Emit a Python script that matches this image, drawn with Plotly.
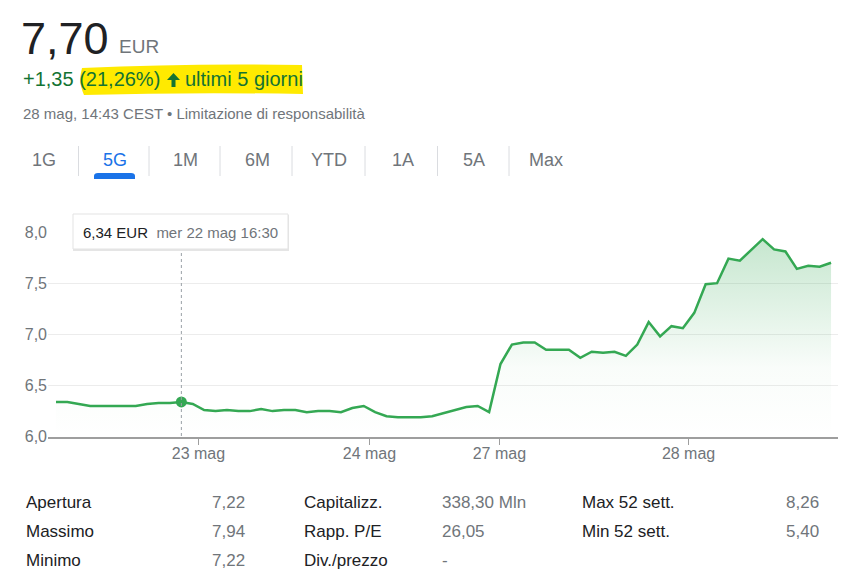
import plotly.graph_objects as go

# Dati del grafico (5 giorni, intervalli di 30 minuti)
prices = [6.34, 6.34, 6.32, 6.30, 6.30, 6.30, 6.30, 6.30, 6.32, 6.33,
          6.33, 6.34, 6.32, 6.26, 6.25, 6.26, 6.25, 6.25, 6.27, 6.25,
          6.26, 6.26, 6.24, 6.25, 6.25, 6.24, 6.28, 6.30, 6.24, 6.20,
          6.19, 6.19, 6.19, 6.20, 6.23, 6.26, 6.29, 6.30, 6.24, 6.71,
          6.90, 6.92, 6.92, 6.85, 6.85, 6.85, 6.77, 6.83, 6.82, 6.83,
          6.79, 6.90, 7.12, 6.98, 7.08, 7.06, 7.21, 7.49, 7.50, 7.74,
          7.72, 7.83, 7.93, 7.83, 7.81, 7.64, 7.67, 7.66, 7.70]
steps = list(range(len(prices)))

day_ticks = [12.5, 27.5, 38.9, 55.5]
day_labels = ["23 mag", "24 mag", "27 mag", "28 mag"]
y_ticks = [6.0, 6.5, 7.0, 7.5, 8.0]

hover_idx = 11
hover_label = "mer 22 mag 16:30"

tabs = ["1G", "5G", "1M", "6M", "YTD", "1A", "5A", "Max"]
active_tab = "5G"

stats_labels_1 = ["Apertura", "Massimo", "Minimo"]
stats_values_1 = ["7,22", "7,94", "7,22"]
stats_labels_2 = ["Capitalizz.", "Rapp. P/E", "Div./prezzo"]
stats_values_2 = ["338,30 Mln", "26,05", "-"]
stats_labels_3 = ["Max 52 sett.", "Min 52 sett."]
stats_values_3 = ["8,26", "5,40"]

W, H = 862, 577
OFF = 8  # margine del body nella pagina html
FONT = "Arial, 'Liberation Sans', sans-serif"
GREEN = "#34a853"
GRAY = "#70757a"
DARK = "#202124"


def px(x):
    return (x - OFF) / W


def py(y):
    return 1 - (y - OFF) / H


def fmt(v):
    return f"{v:.2f}".replace(".", ",")


def text(x, y, s, size, color, anchor="left"):
    return dict(xref="paper", yref="paper", x=px(x), y=py(y), xanchor=anchor,
                yanchor="middle", showarrow=False, text=s,
                font=dict(family=FONT, size=size, color=color))


fig = go.Figure()
fig.add_trace(go.Scatter(
    x=steps, y=prices, mode="lines",
    line=dict(color=GREEN, width=2.5),
    fill="tozeroy",
    fillgradient=dict(type="vertical", start=6.0, stop=max(prices),
                      colorscale=[[0, "rgba(52,168,83,0)"],
                                  [0.35, "rgba(52,168,83,0.03)"],
                                  [1, "rgba(52,168,83,0.28)"]]),
    hoverinfo="skip",
))
fig.add_trace(go.Scatter(
    x=[steps[hover_idx]], y=[prices[hover_idx]], mode="markers",
    marker=dict(color=GREEN, size=11), hoverinfo="skip",
))

shapes = []
annotations = []

# linea tratteggiata del tooltip
shapes.append(dict(type="line", xref="x", yref="paper",
                   x0=steps[hover_idx], x1=steps[hover_idx],
                   y0=py(436), y1=py(250),
                   line=dict(color="#9aa0a6", width=1, dash="dot")))

# box del tooltip
shapes.append(dict(type="rect", xref="paper", yref="paper", layer="above",
                   x0=px(73), x1=px(289), y0=py(251), y1=py(215),
                   fillcolor="rgba(0,0,0,0.10)", line=dict(width=0)))
shapes.append(dict(type="rect", xref="paper", yref="paper", layer="above",
                   x0=px(73), x1=px(288), y0=py(249), y1=py(214),
                   fillcolor="white", line=dict(color="#e3e3e3", width=1)))
annotations.append(text(81, 232,
                        f"{fmt(prices[hover_idx])} EUR  <span style='color:{GRAY}'>{hover_label}</span>",
                        15, DARK))

# intestazione
shapes.append(dict(type="path", xref="paper", yref="paper",
                   path=f"M {px(82)},{py(68)} Q {px(190)},{py(63)} {px(302)},{py(65)} "
                        f"L {px(303)},{py(94)} Q {px(190)},{py(92)} {px(84)},{py(95)} "
                        f"Q {px(78)},{py(82)} {px(82)},{py(68)} Z",
                   fillcolor="#ffea00", line=dict(width=0)))
# freccia verso l'alto
shapes.append(dict(type="path", xref="paper", yref="paper",
                   path=f"M {px(173.5)},{py(73)} L {px(180)},{py(80)} L {px(175.5)},{py(80)} "
                        f"L {px(175.5)},{py(87)} L {px(171.5)},{py(87)} L {px(171.5)},{py(80)} "
                        f"L {px(167)},{py(80)} Z",
                   fillcolor="#137333", line=dict(width=0)))
annotations.append(text(19, 38, "7,70", 45, DARK))
annotations.append(text(117, 46, "EUR", 19, GRAY))
annotations.append(text(21, 79, "+1,35 (21,26%)", 20, "#137333"))
annotations.append(text(183, 79, "ultimi 5 giorni", 20, "#137333"))
annotations.append(text(21, 113, "28 mag, 14:43 CEST • Limitazione di responsabilità",
                        15, GRAY))

# schede periodo
tab_x = [44, 115, 185, 257, 329, 403, 474, 546]
for i, (name, cx) in enumerate(zip(tabs, tab_x)):
    color = "#1a73e8" if name == active_tab else GRAY
    annotations.append(text(cx, 160, name, 18, color, anchor="center"))
    if i < len(tabs) - 1:
        sx = (cx + tab_x[i + 1]) / 2 - 1
        shapes.append(dict(type="line", xref="paper", yref="paper",
                           x0=px(sx), x1=px(sx), y0=py(146), y1=py(176),
                           line=dict(color="#dadce0", width=1)))
    if name == active_tab:
        shapes.append(dict(type="path", xref="paper", yref="paper",
                           path=f"M {px(cx - 21)},{py(179)} L {px(cx - 21)},{py(176)} "
                                f"Q {px(cx - 21)},{py(173)} {px(cx - 17)},{py(173)} "
                                f"L {px(cx + 16)},{py(173)} Q {px(cx + 20)},{py(173)} "
                                f"{px(cx + 20)},{py(176)} L {px(cx + 20)},{py(179)} Z",
                           fillcolor="#1a73e8", line=dict(width=0)))

# tabella statistiche
row_y = [502, 531, 560]
for lab, val, y in zip(stats_labels_1, stats_values_1, row_y):
    annotations.append(text(24, y, lab, 17, DARK))
    annotations.append(text(247, y, val, 17, GRAY, anchor="right"))
for lab, val, y in zip(stats_labels_2, stats_values_2, row_y):
    annotations.append(text(302, y, lab, 17, DARK))
    annotations.append(text(440, y, val, 17, GRAY))
for lab, val, y in zip(stats_labels_3, stats_values_3, row_y):
    annotations.append(text(580, y, lab, 17, DARK))
    annotations.append(text(821, y, val, 17, GRAY, anchor="right"))

fig.update_layout(
    width=W, height=H,
    margin=dict(l=0, r=0, t=0, b=0),
    paper_bgcolor="white", plot_bgcolor="white",
    showlegend=False,
    separators=",.",
    font=dict(family=FONT, color=GRAY),
    shapes=shapes,
    annotations=annotations,
    xaxis=dict(domain=[px(48), px(838)], range=[-0.7, len(prices) - 1 + 0.61],
               tickvals=day_ticks, ticktext=day_labels, automargin=False,
               showgrid=False, zeroline=False,
               showline=True, linecolor="#9e9e9e", linewidth=2,
               ticks="outside", ticklen=6, tickcolor="#9e9e9e", tickwidth=1,
               ticklabelstandoff=-5,
               tickfont=dict(family=FONT, size=16, color=GRAY)),
    yaxis=dict(domain=[py(436.7), py(232)], range=[6.0, 8.0],
               tickvals=y_ticks, tickformat=".1f", automargin=False,
               showgrid=True, gridcolor="#ececec", gridwidth=1,
               zeroline=False, showline=False, ticks="",
               tickfont=dict(family=FONT, size=16, color=GRAY)),
)

fig.write_html("out.html", config={"displayModeBar": False})
